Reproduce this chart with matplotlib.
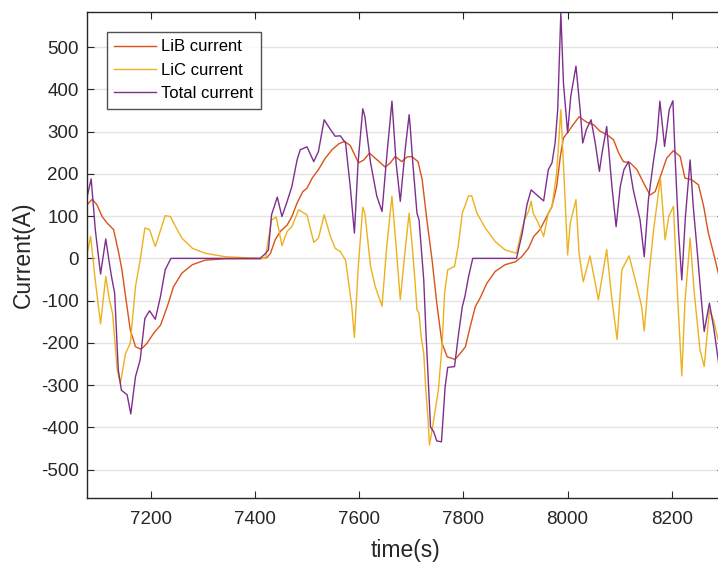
import matplotlib
matplotlib.use("Agg")
import matplotlib.pyplot as plt

plt.rcParams['font.family'] = ['Liberation Sans', 'DejaVu Sans']
plt.rcParams['axes.unicode_minus'] = False

# LiB current (battery)
lib_t = [7079, 7088, 7097, 7107, 7117, 7129, 7139, 7145, 7152, 7161, 7171, 7182, 7193, 7206,
         7219, 7232, 7244, 7260, 7280, 7305, 7343, 7411, 7423, 7430, 7439, 7449, 7462, 7471,
         7481, 7492, 7500, 7510, 7522, 7535, 7548, 7561, 7572, 7583, 7593, 7599, 7609, 7620,
         7631, 7650, 7660, 7669, 7682, 7692, 7701, 7713, 7721, 7730, 7740, 7749, 7759, 7769,
         7784, 7794, 7804, 7813, 7823, 7832, 7845, 7861, 7880, 7900, 7912, 7925, 7935, 7947,
         7960, 7970, 7979, 7986, 7992, 8002, 8008, 8022, 8037, 8050, 8062, 8075, 8088, 8098,
         8107, 8120, 8133, 8146, 8158, 8168, 8178, 8190, 8203, 8216, 8225, 8238, 8251, 8261,
         8270, 8280, 8290]
lib_i = [128, 140, 127, 99, 83, 68, 12, -27, -90, -169, -209, -215, -201, -177,
         -158, -114, -67, -35, -15, -4, -1, -1, 2, 12, 44, 64, 79, 99,
         131, 158, 166, 190, 210, 237, 257, 271, 277, 267, 241, 226, 233, 249,
         237, 216, 226, 241, 229, 240, 241, 229, 186, 91, -4, -106, -201, -233,
         -239, -225, -209, -162, -114, -94, -59, -31, -15, -8, 4, 24, 52, 68,
         99, 123, 170, 241, 285, 301, 312, 335, 322, 316, 301, 293, 281, 249,
         229, 226, 210, 178, 150, 158, 194, 237, 255, 241, 190, 186, 174, 123,
         60, 12, -40]

# LiC current (capacitor)
lic_t = [7079, 7085, 7093, 7104, 7114, 7121, 7127, 7136, 7142, 7152, 7161, 7171, 7180, 7189,
         7198, 7209, 7228, 7238, 7248, 7260, 7280, 7305, 7343, 7391, 7420, 7432, 7441, 7452,
         7462, 7471, 7484, 7500, 7513, 7522, 7533, 7545, 7554, 7564, 7574, 7581, 7586, 7591,
         7598, 7607, 7611, 7622, 7631, 7644, 7653, 7663, 7671, 7679, 7689, 7696, 7702, 7708,
         7711, 7715, 7719, 7724, 7728, 7732, 7735, 7741, 7752, 7759, 7764, 7770, 7783, 7790,
         7798, 7810, 7816, 7826, 7842, 7861, 7880, 7902, 7909, 7917, 7925, 7930, 7934, 7944,
         7954, 7963, 7970, 7979, 7987, 7994, 8000, 8005, 8016, 8022, 8030, 8043, 8059, 8075,
         8085, 8095, 8104, 8118, 8133, 8142, 8147, 8155, 8165, 8178, 8187, 8194, 8203, 8211,
         8219, 8225, 8235, 8243, 8254, 8262, 8272, 8280, 8290]
lic_i = [15, 52, -43, -155, -43, -98, -130, -264, -296, -225, -201, -67, -4, 72,
         68, 28, 101, 99, 75, 48, 24, 12, 4, 1, 0, 91, 98, 30,
         64, 75, 115, 103, 38, 48, 103, 52, 24, 16, -4, -67, -114, -187,
         -27, 121, 107, -19, -67, -113, 28, 147, 28, -98, 28, 107, 28, -67,
         -122, -130, -185, -225, -312, -375, -442, -399, -312, -209, -82, -27, -19, 28,
         107, 148, 148, 107, 72, 40, 20, 12, 52, 91, 111, 135, 107, 83,
         52, 107, 123, 202, 352, 170, 8, 83, 139, 12, -55, 6, -98, 21,
         -98, -192, -27, 6, -67, -114, -172, -51, 68, 190, 44, 99, 123, -90,
         -278, -106, 48, -82, -217, -256, -122, -146, -200]

# Total current
tot_t = [7079, 7086, 7094, 7104, 7114, 7120, 7125, 7131, 7138, 7144, 7155, 7162, 7171, 7180,
         7189, 7198, 7209, 7219, 7228, 7239, 7410, 7420, 7426, 7432, 7443, 7452, 7462, 7471,
         7481, 7487, 7500, 7513, 7522, 7533, 7545, 7554, 7564, 7574, 7583, 7591, 7598, 7607,
         7611, 7622, 7634, 7644, 7653, 7663, 7671, 7679, 7689, 7696, 7698, 7703, 7711, 7715,
         7724, 7728, 7737, 7743, 7749, 7758, 7765, 7770, 7783, 7791, 7798, 7803, 7810, 7818,
         7902, 7913, 7922, 7930, 7954, 7963, 7970, 7976, 7981, 7987, 7992, 8000, 8006, 8016,
         8024, 8029, 8036, 8045, 8053, 8061, 8066, 8075, 8085, 8093, 8101, 8108, 8117, 8126,
         8139, 8147, 8155, 8165, 8171, 8177, 8186, 8195, 8202, 8207, 8213, 8219, 8226, 8235,
         8241, 8249, 8256, 8262, 8272, 8280, 8290]
tot_i = [150, 188, 67, -37, 46, -4, -43, -82, -264, -312, -323, -368, -280, -240,
         -142, -124, -144, -90, -27, 0, 0, 11, 20, 103, 145, 99, 135, 170,
         233, 257, 264, 229, 253, 328, 305, 289, 290, 273, 170, 60, 226, 354,
         336, 226, 147, 111, 241, 372, 226, 135, 265, 340, 312, 226, 107, 91,
         -51, -169, -399, -410, -432, -434, -304, -258, -256, -177, -114, -90, -43, 0,
         0, 60, 127, 162, 136, 210, 226, 273, 352, 581, 415, 297, 383, 455,
         352, 273, 305, 328, 273, 206, 249, 312, 170, 75, 170, 210, 229, 162,
         91, 4, 139, 233, 281, 372, 265, 352, 373, 218, 60, -51, 99, 233,
         123, 12, -90, -173, -106, -162, -250]

xticks = [7200, 7400, 7600, 7800, 8000, 8200]
yticks = list(range(-500, 501, 100))

dark = '#262626'
fig = plt.figure(figsize=(7.18, 5.66), dpi=100)
ax = fig.add_axes([87 / 718, 68 / 566, 637 / 718, 486 / 566])

ax.plot(lib_t, lib_i, color='#D95319', lw=1.0, label='LiB current')
ax.plot(lic_t, lic_i, color='#EDB120', lw=1.0, label='LiC current')
ax.plot(tot_t, tot_i, color='#7E2F8E', lw=1.0, label='Total current')

ax.set_xlim(7078, 8300)
ax.set_ylim(-567, 583)
ax.set_xticks(xticks)
ax.set_yticks(yticks)
ax.grid(axis='y', color='#e3e3e3', lw=1.0)
ax.set_axisbelow(True)

for s in ax.spines.values():
    s.set_color(dark)
    s.set_linewidth(1.0)
ax.tick_params(direction='in', length=5, width=0.8, colors=dark, labelsize=13.5,
               top=True, right=True)
ax.tick_params(axis='x', pad=9)
ax.tick_params(axis='y', pad=6)
ax.set_xlabel('time(s)', fontsize=16.5, color=dark, labelpad=8)
ax.set_ylabel('Current(A)', fontsize=16.5, color=dark, labelpad=4)

leg = ax.legend(loc='upper left', bbox_to_anchor=(0.031, 0.959), borderaxespad=0,
                fontsize=12, frameon=True, fancybox=False, handlelength=2.5,
                handletextpad=0.3, labelspacing=0.5, borderpad=0.45)
leg.get_frame().set_edgecolor(dark)
leg.get_frame().set_linewidth(1.0)

fig.savefig('out.png', dpi=100)
